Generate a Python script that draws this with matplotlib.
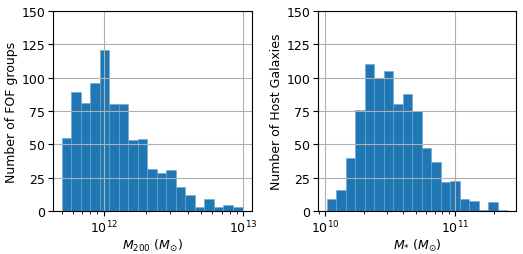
import numpy as np
import matplotlib
matplotlib.use("Agg")
import matplotlib.pyplot as plt

plt.rcParams["font.size"] = 9

# Histogram counts
m200_counts = [55, 89, 81, 96, 121, 80, 80, 53, 54, 32, 29, 31, 18, 12, 3, 9, 3, 5, 3]
m200_logmin, m200_logmax = 11.70, 12.995

mstar_counts = [9, 16, 40, 76, 110, 100, 105, 80, 88, 75, 47, 37, 22, 23, 9, 8, 1, 7, 1]
mstar_logmin, mstar_logmax = 10.013, 11.405

fig = plt.figure(figsize=(5.23, 2.55), dpi=100)
ax1 = fig.add_axes([0.1008, 0.1675, 0.3802, 0.7865])
ax2 = fig.add_axes([0.6075, 0.1675, 0.3795, 0.7865])


def draw_hist(ax, counts, lo, hi, xlabel, ylabel):
    edges = np.logspace(lo, hi, len(counts) + 1)
    centers = np.sqrt(edges[:-1] * edges[1:])
    ax.hist(centers, bins=edges, weights=counts, color="#1f77b4",
            edgecolor="#6fa3cf", linewidth=0.4)
    ax.set_xscale("log")
    ax.set_ylim(0, 150)
    ax.set_yticks(np.arange(0, 151, 25))
    ax.tick_params(pad=2)
    ax.grid(True)
    ax.set_xlabel(xlabel, labelpad=1)
    ax.set_ylabel(ylabel, labelpad=2)


draw_hist(ax1, m200_counts, m200_logmin, m200_logmax,
          r"$M_{200}$ $(M_{\odot})$", "Number of FOF groups")
draw_hist(ax2, mstar_counts, mstar_logmin, mstar_logmax,
          r"$M_{*}$ $(M_{\odot})$", "Number of Host Galaxies")

fig.savefig("out.png", dpi=100)
